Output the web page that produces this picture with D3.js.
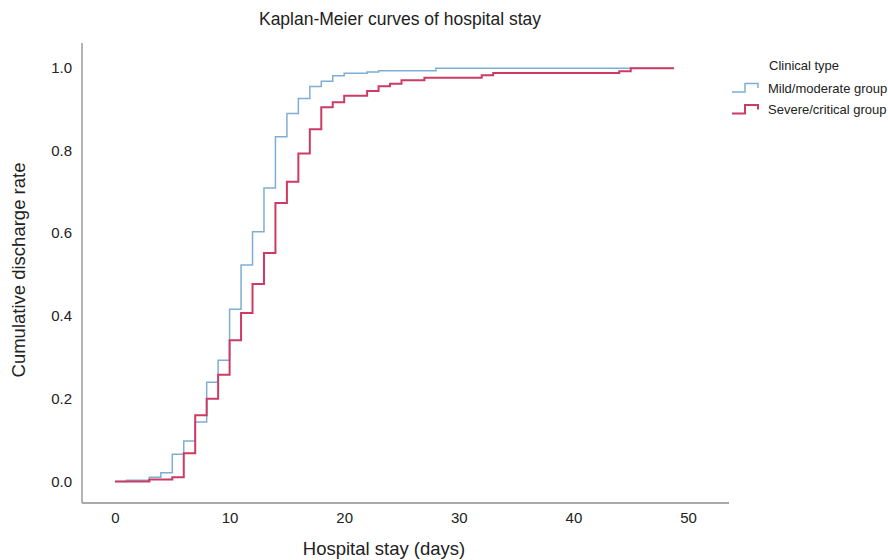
<!DOCTYPE html>
<html>
<head>
<meta charset="utf-8">
<script src="https://cdn.jsdelivr.net/npm/d3@7"></script>
<style>
  body { margin: 0; background: #fff; }
  text { font-family: "Liberation Sans", Arial, sans-serif; fill: #222; }
  .axis .domain { display: none; }
  .axis line { display: none; }
  .axis text { font-size: 15px; }
</style>
</head>
<body>
<svg id="km" width="888" height="560"></svg>
<script>
// days at which each curve steps, and the cumulative discharge rate after it
const mildDays   = [0, 1, 3, 4, 5, 6, 7, 8, 9, 10, 11, 12, 13, 14, 15, 16, 17, 18, 19, 20, 22, 23, 28, 48.7];
const mildRate   = [0, 0.003, 0.01, 0.021, 0.066, 0.098, 0.144, 0.24, 0.293, 0.416, 0.523, 0.603, 0.709,
                    0.833, 0.889, 0.925, 0.954, 0.967, 0.98, 0.986, 0.989, 0.992, 0.998, 1.0];
const severeDays = [0, 3, 5, 6, 7, 8, 9, 10, 11, 12, 13, 14, 15, 16, 17, 18, 19, 20, 22, 23, 24, 25, 27,
                    32, 33, 44, 45, 48.7];
const severeRate = [0, 0.005, 0.01, 0.068, 0.16, 0.2, 0.258, 0.341, 0.407, 0.477, 0.552, 0.673, 0.724,
                    0.792, 0.851, 0.904, 0.916, 0.932, 0.943, 0.955, 0.961, 0.969, 0.975, 0.981, 0.987,
                    0.991, 0.998, 1.0];
const groups     = ["Mild/moderate group", "Severe/critical group"];
const xTicks     = [0, 10, 20, 30, 40, 50];
const yTicks     = [0, 0.2, 0.4, 0.6, 0.8, 1.0];

const colors = ["#7eaed6", "#cc3b64"];
const widths = [1.5, 2];

const frame = {left: 82, right: 729, top: 43, bottom: 503};

const svg = d3.select("svg#km");

const x = d3.scaleLinear().domain([0, 50]).range([115, 688]);
const y = d3.scaleLinear().domain([0, 1]).range([481.5, 67.5]);

// axis frame
svg.append("line")
    .attr("x1", frame.left).attr("x2", frame.left)
    .attr("y1", frame.top).attr("y2", frame.bottom)
    .attr("stroke", "#8c8c8c").attr("stroke-width", 1.3);
svg.append("line")
    .attr("x1", frame.left).attr("x2", frame.right)
    .attr("y1", frame.bottom).attr("y2", frame.bottom)
    .attr("stroke", "#8c8c8c").attr("stroke-width", 1.3);

svg.append("g")
    .attr("class", "axis")
    .attr("transform", "translate(0," + (frame.bottom + 6) + ")")
    .call(d3.axisBottom(x).tickValues(xTicks).tickSize(0).tickPadding(3).tickFormat(d3.format("d")));

svg.append("g")
    .attr("class", "axis")
    .attr("transform", "translate(" + (frame.left - 10) + ",0)")
    .call(d3.axisLeft(y).tickValues(yTicks).tickSize(0).tickPadding(0).tickFormat(d3.format(".1f")));

// curves
const line = d3.line()
    .x(function(d) { return x(d[0]); })
    .y(function(d) { return y(d[1]); })
    .curve(d3.curveStepAfter);

const series = [d3.zip(mildDays, mildRate), d3.zip(severeDays, severeRate)];

svg.append("g").selectAll("path")
    .data(series)
    .enter().append("path")
      .attr("d", line)
      .attr("fill", "none")
      .attr("stroke", function(d, i) { return colors[i]; })
      .attr("stroke-width", function(d, i) { return widths[i]; });

// titles
svg.append("text")
    .attr("x", 400).attr("y", 25)
    .attr("text-anchor", "middle")
    .style("font-size", "17.5px")
    .text("Kaplan-Meier curves of hospital stay");

svg.append("text")
    .attr("x", 384).attr("y", 555)
    .attr("text-anchor", "middle")
    .style("font-size", "18.5px")
    .text("Hospital stay (days)");

svg.append("text")
    .attr("transform", "translate(25,270) rotate(-90)")
    .attr("text-anchor", "middle")
    .style("font-size", "18.5px")
    .text("Cumulative discharge rate");

// legend
const legend = svg.append("g").attr("transform", "translate(732,0)");
legend.append("text")
    .attr("x", 37).attr("y", 70)
    .style("font-size", "13px")
    .text("Clinical type");

const item = legend.selectAll("g.item")
    .data(groups)
    .enter().append("g")
      .attr("class", "item")
      .attr("transform", function(d, i) { return "translate(0," + (92 + 21.5 * i) + ")"; });

item.append("path")
    .attr("d", "M0,0H13V-8.5H26V-4")
    .attr("fill", "none")
    .attr("stroke", function(d, i) { return colors[i]; })
    .attr("stroke-width", function(d, i) { return widths[i]; });

item.append("text")
    .attr("x", 36).attr("y", 0.5)
    .style("font-size", "13px")
    .text(function(d) { return d; });
</script>
</body>
</html>
